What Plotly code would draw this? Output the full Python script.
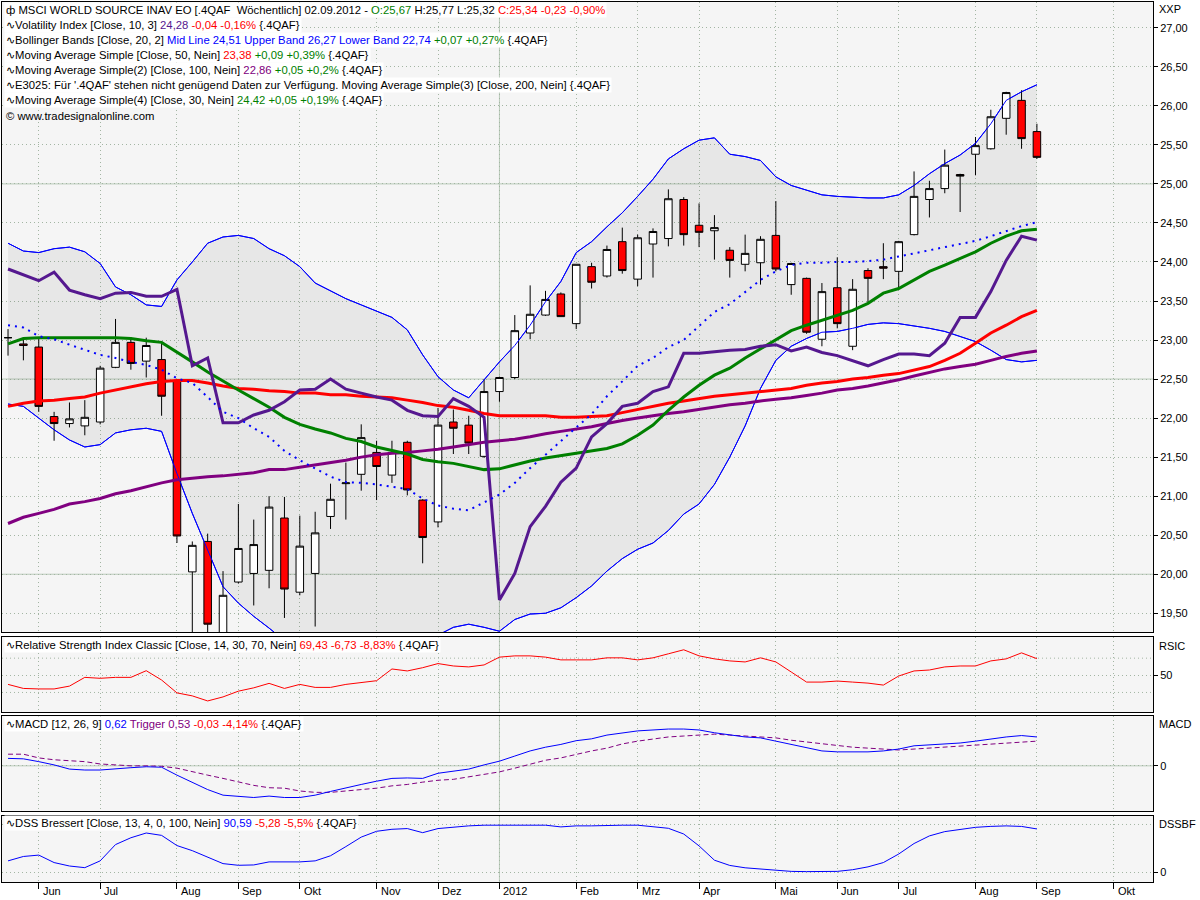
import plotly.graph_objects as go
import pandas as pd

# ---------------- data ----------------
dates = pd.date_range("2011-05-22", periods=68, freq="7D")

opens = [23.03, 22.95, 22.91, 22.02, 21.93, 21.90, 21.95, 22.65, 22.97, 22.73,
         22.75, 22.48, 20.03, 20.42, 19.22, 19.90, 20.01, 20.05, 20.72, 19.77,
         20.01, 20.74, 21.16, 21.28, 21.56, 21.27, 21.69, 20.95, 20.67, 21.95,
         21.91, 21.51, 22.34, 22.52, 23.09, 23.32, 23.59, 23.21, 23.94, 23.82,
         24.26, 23.78, 24.23, 24.30, 24.80, 24.47, 24.40, 24.15, 23.97, 23.99,
         24.34, 23.71, 23.79, 23.01, 23.67, 22.92, 23.89, 23.94, 23.88, 24.35,
         24.80, 24.94, 25.12, 25.38, 25.45, 25.84, 26.07, 25.67]
highs = [23.14, 23.03, 23.02, 22.08, 22.20, 22.23, 22.67, 23.27, 23.03, 23.03,
         22.96, 22.50, 20.42, 20.52, 20.04, 20.90, 20.70, 21.00, 20.99, 20.75,
         20.80, 21.16, 21.43, 21.92, 21.71, 21.71, 21.71, 20.96, 22.13, 22.11,
         22.03, 22.50, 22.53, 23.32, 23.70, 23.63, 23.61, 23.97, 23.99, 24.21,
         24.44, 24.35, 24.43, 24.93, 24.83, 24.75, 24.60, 24.19, 24.35, 24.33,
         24.78, 23.99, 23.80, 23.73, 24.06, 23.78, 23.92, 24.24, 24.27, 25.16,
         25.04, 25.44, 25.13, 25.60, 25.95, 26.18, 26.20, 25.77]
lows = [22.80, 22.74, 22.08, 21.71, 21.88, 21.78, 21.92, 22.64, 22.62, 22.52,
        22.03, 20.40, 19.15, 19.20, 19.10, 19.88, 19.60, 19.82, 19.44, 19.73,
        19.33, 20.58, 20.70, 21.07, 20.95, 21.17, 21.01, 20.14, 20.60, 21.54,
        21.54, 21.49, 22.21, 22.50, 23.01, 23.31, 23.30, 23.14, 23.66, 23.80,
        23.85, 23.69, 23.80, 24.20, 24.21, 24.19, 24.03, 23.80, 23.88, 23.71,
        23.88, 23.58, 23.08, 22.92, 23.15, 22.87, 23.48, 23.78, 23.67, 24.34,
        24.57, 24.88, 24.64, 25.11, 25.44, 25.63, 25.45, 25.32]
closes = [23.03, 22.93, 22.15, 21.93, 21.99, 22.01, 22.64, 22.97, 22.70, 22.93,
          22.28, 20.49, 20.37, 19.36, 19.73, 20.33, 20.38, 20.86, 19.81, 20.36,
          20.53, 20.96, 21.17, 21.75, 21.38, 21.56, 21.08, 20.47, 21.91, 21.87,
          21.68, 22.34, 22.52, 23.12, 23.33, 23.52, 23.30, 23.97, 23.74, 24.16,
          23.89, 24.31, 24.39, 24.81, 24.35, 24.38, 24.44, 24.02, 24.11, 24.29,
          23.91, 23.98, 23.10, 23.62, 23.21, 23.65, 23.79, 23.92, 24.26, 24.84,
          24.94, 25.24, 25.10, 25.49, 25.86, 26.17, 25.58, 25.34]

bb_upper = [24.24, 24.14, 24.12, 24.17, 24.19, 24.13, 23.98, 23.68, 23.58, 23.45,
            23.43, 23.77, 24.00, 24.24, 24.32, 24.34, 24.30, 24.17, 24.08, 23.94,
            23.73, 23.63, 23.53, 23.45, 23.37, 23.29, 23.13, 22.81, 22.53, 22.36,
            22.26, 22.49, 22.72, 22.93, 23.19, 23.49, 23.75, 24.12, 24.26, 24.45,
            24.63, 24.84, 25.06, 25.32, 25.45, 25.56, 25.59, 25.38, 25.35, 25.30,
            25.09, 24.98, 24.92, 24.86, 24.84, 24.83, 24.82, 24.82, 24.86, 24.98,
            25.13, 25.26, 25.37, 25.52, 25.77, 26.07, 26.18, 26.27]
bb_lower = [22.18, 22.15, 22.00, 21.85, 21.72, 21.63, 21.66, 21.81, 21.85, 21.87,
            21.83, 21.29, 20.78, 20.31, 19.84, 19.63, 19.46, 19.31, 19.15, 19.05,
            19.00, 18.98, 19.00, 19.04, 19.08, 19.12, 19.16, 19.19, 19.22, 19.32,
            19.36, 19.32, 19.27, 19.42, 19.49, 19.50, 19.57, 19.70, 19.85, 20.04,
            20.20, 20.32, 20.40, 20.56, 20.77, 20.90, 21.15, 21.50, 21.90, 22.38,
            22.74, 22.92, 23.02, 23.10, 23.11, 23.15, 23.20, 23.22, 23.21, 23.18,
            23.15, 23.11, 23.04, 22.98, 22.87, 22.75, 22.72, 22.74]
bb_mid = [23.19, 23.16, 23.05, 23.01, 22.94, 22.88, 22.81, 22.77, 22.72, 22.68,
          22.62, 22.51, 22.45, 22.27, 22.08, 22.00, 21.87, 21.76, 21.58, 21.46,
          21.36, 21.25, 21.18, 21.17, 21.15, 21.12, 21.09, 20.97, 20.88, 20.84,
          20.82, 20.92, 21.02, 21.17, 21.36, 21.53, 21.71, 21.88, 22.05, 22.28,
          22.47, 22.67, 22.77, 22.91, 23.00, 23.18, 23.36, 23.46, 23.62, 23.77,
          23.88, 23.96, 23.99, 23.99, 24.00, 24.00, 24.01, 24.03, 24.07, 24.11,
          24.15, 24.19, 24.23, 24.27, 24.33, 24.40, 24.46, 24.51]
sma30 = [22.95, 23.02, 23.03, 23.03, 23.03, 23.03, 23.03, 23.03, 23.02, 22.99,
         22.97, 22.85, 22.72, 22.59, 22.47, 22.36, 22.25, 22.14, 22.01, 21.92,
         21.86, 21.81, 21.74, 21.70, 21.63, 21.58, 21.54, 21.47, 21.44, 21.42,
         21.38, 21.34, 21.35, 21.40, 21.45, 21.49, 21.52, 21.55, 21.58, 21.61,
         21.67, 21.78, 21.91, 22.10, 22.27, 22.42, 22.55, 22.64, 22.77, 22.89,
         23.01, 23.12, 23.19, 23.25, 23.31, 23.38, 23.47, 23.60, 23.66, 23.77,
         23.88, 23.96, 24.04, 24.13, 24.24, 24.33, 24.40, 24.42]
sma50 = [22.15, 22.19, 22.22, 22.23, 22.25, 22.27, 22.32, 22.36, 22.40, 22.44,
         22.47, 22.48, 22.48, 22.45, 22.41, 22.38, 22.37, 22.35, 22.34, 22.32,
         22.32, 22.30, 22.30, 22.28, 22.27, 22.26, 22.23, 22.20, 22.16, 22.14,
         22.10, 22.06, 22.03, 22.03, 22.03, 22.03, 22.01, 22.01, 22.02, 22.03,
         22.07, 22.11, 22.15, 22.19, 22.22, 22.25, 22.28, 22.30, 22.32, 22.34,
         22.36, 22.38, 22.42, 22.45, 22.47, 22.50, 22.52, 22.55, 22.57, 22.62,
         22.66, 22.74, 22.83, 22.96, 23.09, 23.19, 23.30, 23.38]
sma100 = [20.65, 20.73, 20.78, 20.83, 20.90, 20.93, 20.97, 21.03, 21.07, 21.12,
          21.17, 21.21, 21.23, 21.25, 21.26, 21.28, 21.30, 21.34, 21.34, 21.37,
          21.40, 21.43, 21.46, 21.50, 21.53, 21.55, 21.56, 21.58, 21.60, 21.63,
          21.66, 21.69, 21.71, 21.73, 21.76, 21.80, 21.83, 21.86, 21.89, 21.93,
          21.97, 22.00, 22.03, 22.06, 22.08, 22.11, 22.14, 22.17, 22.19, 22.22,
          22.24, 22.26, 22.29, 22.32, 22.36, 22.38, 22.41, 22.45, 22.49, 22.54,
          22.59, 22.63, 22.66, 22.69, 22.74, 22.79, 22.83, 22.86]
vol_index = [23.91, 23.83, 23.76, 23.87, 23.64, 23.58, 23.53, 23.60, 23.61, 23.56,
             23.56, 23.65, 22.67, 22.77, 21.94, 21.94, 22.04, 22.10, 22.21, 22.36,
             22.37, 22.50, 22.37, 22.32, 22.27, 22.23, 22.10, 22.03, 22.02, 22.25,
             22.15, 22.01, 19.67, 20.01, 20.61, 20.87, 21.18, 21.36, 21.76, 21.93,
             22.15, 22.19, 22.34, 22.40, 22.83, 22.83, 22.85, 22.87, 22.88, 22.92,
             22.94, 22.86, 22.91, 22.84, 22.80, 22.73, 22.67, 22.75, 22.82, 22.82,
             22.80, 22.96, 23.29, 23.29, 23.62, 24.02, 24.33, 24.28]

rsi = [39.4, 34.7, 34.1, 34.1, 37.4, 47.6, 46.5, 47.6, 47.6, 55.4,
       44.5, 29.5, 26.0, 20.1, 24.8, 31.5, 35.4, 40.6, 34.7, 39.4,
       35.9, 35.9, 39.4, 41.3, 43.7, 57.4, 55.1, 58.9, 63.7, 60.9,
       59.8, 62.1, 71.2, 72.7, 72.7, 71.2, 68.0, 68.0, 68.0, 70.4,
       70.4, 68.0, 70.4, 75.1, 79.8, 72.7, 69.2, 66.8, 65.6, 70.4,
       65.6, 53.9, 42.1, 42.1, 43.3, 42.1, 40.9, 38.6, 49.2, 55.1,
       56.2, 59.8, 60.9, 60.9, 66.8, 69.2, 76.2, 69.4]
macd = [0.16, 0.15, 0.09, 0.02, -0.07, -0.09, -0.09, -0.06, -0.04, -0.02,
        -0.03, -0.20, -0.35, -0.51, -0.63, -0.65, -0.68, -0.65, -0.68, -0.68,
        -0.63, -0.55, -0.47, -0.40, -0.33, -0.27, -0.26, -0.27, -0.16, -0.11,
        -0.07, 0.02, 0.10, 0.21, 0.32, 0.40, 0.46, 0.54, 0.58, 0.66,
        0.71, 0.75, 0.77, 0.79, 0.79, 0.77, 0.71, 0.66, 0.62, 0.60,
        0.53, 0.45, 0.38, 0.32, 0.30, 0.30, 0.30, 0.32, 0.36, 0.43,
        0.45, 0.47, 0.49, 0.53, 0.58, 0.62, 0.65, 0.62]
trigger = [0.25, 0.25, 0.17, 0.13, 0.11, 0.09, 0.04, 0.02, 0.00, 0.00,
           -0.01, -0.05, -0.13, -0.20, -0.27, -0.35, -0.42, -0.47, -0.48, -0.54,
           -0.57, -0.57, -0.54, -0.51, -0.48, -0.43, -0.40, -0.35, -0.31, -0.29,
           -0.24, -0.19, -0.13, -0.05, 0.03, 0.12, 0.17, 0.25, 0.32, 0.38,
           0.47, 0.53, 0.58, 0.62, 0.64, 0.66, 0.68, 0.66, 0.64, 0.62,
           0.60, 0.55, 0.51, 0.47, 0.43, 0.40, 0.38, 0.36, 0.34, 0.36,
           0.38, 0.40, 0.42, 0.45, 0.47, 0.49, 0.51, 0.53]
dss = [23.6, 32.8, 35.7, 20.0, 12.8, 9.3, 23.6, 57.8, 72.1, 82.1,
       77.1, 55.7, 45.0, 30.7, 17.8, 14.3, 15.0, 21.4, 21.4, 21.4,
       23.6, 34.3, 53.5, 73.5, 85.7, 89.9, 91.4, 82.8, 91.4, 94.9,
       97.1, 98.5, 98.5, 98.5, 98.5, 98.5, 94.9, 97.1, 97.1, 98.5,
       98.5, 98.5, 96.0, 92.0, 80.0, 55.0, 25.0, 14.0, 9.0, 6.0,
       3.0, 1.5, 1.0, 1.0, 1.5, 5.0, 11.0, 20.0, 38.0, 60.0,
       76.0, 85.0, 90.0, 94.0, 96.0, 97.0, 95.9, 90.6]

month_ticks = ["2011-06-05", "2011-07-03", "2011-08-07", "2011-09-04", "2011-10-02",
               "2011-11-06", "2011-12-04", "2012-01-01", "2012-02-05", "2012-03-04",
               "2012-04-01", "2012-05-06", "2012-06-03", "2012-07-01", "2012-08-05",
               "2012-09-02", "2012-10-07"]
month_labels = ["Jun", "Jul", "Aug", "Sep", "Okt", "Nov", "Dez", "2012", "Feb", "Mrz",
                "Apr", "Mai", "Jun", "Jul", "Aug", "Sep", "Okt"]
price_ticks = [19.5, 20.0, 20.5, 21.0, 21.5, 22.0, 22.5, 23.0, 23.5, 24.0,
               24.5, 25.0, 25.5, 26.0, 26.5, 27.0]
price_solid = [20.0, 22.5, 25.0]

# ---------------- layout geometry ----------------
W, H = 1200, 900
ML, MR, MT, MB = 2, 47, 2, 18
PW, PH = W - ML - MR, H - MT - MB


def py(p):
    return (H - MB - p) / PH


def px(p):
    return (p - ML) / PW


FONT = "Liberation Sans, Arial, sans-serif"
BLUE, RED, GREEN, PURPLE, INDIGO = "#0000ff", "#ff0000", "#008000", "#800080", "#55188f"
GRID = "#a3b5a3"
SOLID = "#b9cab9"
BG = "#f5f5f5"

fig = go.Figure()

# Bollinger band fill (base subplot, behind candles)
fig.add_trace(go.Scatter(x=dates, y=bb_upper, mode="lines", line=dict(color=BLUE, width=1),
                         xaxis="x", yaxis="y", hoverinfo="skip", showlegend=False))
fig.add_trace(go.Scatter(x=dates, y=bb_lower, mode="lines", line=dict(color=BLUE, width=1),
                         fill="tonexty", fillcolor="rgba(0,0,0,0.055)",
                         xaxis="x", yaxis="y", hoverinfo="skip", showlegend=False))

# candles on overlay axis
fig.add_trace(go.Candlestick(x=dates, open=opens, high=highs, low=lows, close=closes,
                             xaxis="x", yaxis="y5", whiskerwidth=0,
                             increasing=dict(line=dict(color="black", width=1), fillcolor="white"),
                             decreasing=dict(line=dict(color="black", width=1), fillcolor=RED),
                             showlegend=False))
for yy in (bb_upper, bb_lower):
    fig.add_trace(go.Scatter(x=dates, y=yy, mode="lines", line=dict(color=BLUE, width=1),
                             xaxis="x", yaxis="y5", hoverinfo="skip", showlegend=False))
fig.add_trace(go.Scatter(x=dates, y=sma100, mode="lines", line=dict(color=PURPLE, width=3),
                         xaxis="x", yaxis="y5", showlegend=False))
fig.add_trace(go.Scatter(x=dates, y=sma50, mode="lines", line=dict(color=RED, width=3),
                         xaxis="x", yaxis="y5", showlegend=False))
fig.add_trace(go.Scatter(x=dates, y=sma30, mode="lines", line=dict(color=GREEN, width=3),
                         xaxis="x", yaxis="y5", showlegend=False))
fig.add_trace(go.Scatter(x=dates, y=vol_index, mode="lines", line=dict(color=INDIGO, width=3),
                         xaxis="x", yaxis="y5", showlegend=False))
fig.add_trace(go.Scatter(x=dates, y=bb_mid, mode="lines", line=dict(color=BLUE, width=2, dash="2px,5px"),
                         xaxis="x", yaxis="y5", showlegend=False))

# RSI
fig.add_trace(go.Scatter(x=dates, y=rsi, mode="lines", line=dict(color=RED, width=1),
                         xaxis="x2", yaxis="y2", showlegend=False))
# MACD
fig.add_trace(go.Scatter(x=dates, y=trigger, mode="lines", line=dict(color=PURPLE, width=1, dash="5px,3px"),
                         xaxis="x3", yaxis="y3", showlegend=False))
fig.add_trace(go.Scatter(x=dates, y=macd, mode="lines", line=dict(color=BLUE, width=1),
                         xaxis="x3", yaxis="y3", showlegend=False))
# DSS
fig.add_trace(go.Scatter(x=dates, y=dss, mode="lines", line=dict(color=BLUE, width=1),
                         xaxis="x4", yaxis="y4", showlegend=False))

xrange = ["2011-05-19 06:00", "2012-10-24 22:00"]
xcommon = dict(tickvals=month_ticks, showticklabels=False, showgrid=True, gridcolor=GRID,
               griddash="1px,3px", gridwidth=1, showline=True, mirror=True, linecolor="black",
               linewidth=1, zeroline=False)
ycommon = dict(side="right", showline=True, mirror=True, linecolor="black", linewidth=1,
               ticks="outside", ticklen=4, tickcolor="black", showgrid=True, gridcolor=GRID,
               griddash="1px,3px", zeroline=False,
               tickfont=dict(family=FONT, size=11, color="black"))

fig.update_layout(
    width=W, height=H, margin=dict(l=ML, r=MR, t=MT, b=MB),
    paper_bgcolor="white", plot_bgcolor=BG, separators=",.",
    font=dict(family=FONT, size=11, color="black"),
    showlegend=False,
    xaxis=dict(domain=[0, 1], anchor="y", range=xrange, ticks="", rangeslider=dict(visible=False), **xcommon),
    xaxis2=dict(domain=[0, 1], anchor="y2", matches="x", ticks="", **xcommon),
    xaxis3=dict(domain=[0, 1], anchor="y3", matches="x", ticks="", **xcommon),
    xaxis4=dict(domain=[0, 1], anchor="y4", matches="x", ticks="outside", ticklen=6,
                tickcolor="black", **xcommon),
    yaxis=dict(domain=[py(632), py(2)], anchor="x", range=[19.26, 27.33], tickvals=price_ticks,
               tickformat=".2f", **ycommon),
    yaxis5=dict(overlaying="y", anchor="x", range=[19.26, 27.33], visible=False, side="right"),
    yaxis2=dict(domain=[py(712), py(637)], anchor="x2", range=[7.2, 94.7], tickvals=[50], **ycommon),
    yaxis3=dict(domain=[py(811), py(716)], anchor="x3", range=[-0.97, 1.07], tickvals=[0],
                tickformat="d", **ycommon),
    yaxis4=dict(domain=[py(882), py(816)], anchor="x4", range=[-20.8, 117.8], tickvals=[0],
                tickformat="d", **ycommon),
)

shapes = []
for v in price_solid:
    shapes.append(dict(type="line", xref="x domain", x0=0, x1=1, yref="y", y0=v, y1=v,
                       line=dict(color=SOLID, width=1), layer="below"))
shapes.append(dict(type="line", xref="x3 domain", x0=0, x1=1, yref="y3", y0=0, y1=0,
                   line=dict(color=SOLID, width=1), layer="below"))
for v in (30, 70):
    shapes.append(dict(type="line", xref="x2 domain", x0=0, x1=1, yref="y2", y0=v, y1=v,
                       line=dict(color=GRID, width=1, dash="1px,3px"), layer="below"))
shapes.append(dict(type="line", xref="x4 domain", x0=0, x1=1, yref="y4", y0=100, y1=100,
                   line=dict(color=GRID, width=1, dash="1px,3px"), layer="below"))
for ax in ("", "2", "3", "4"):
    shapes.append(dict(type="line", xref="x" + ax, x0=month_ticks[7], x1=month_ticks[7],
                       yref="y" + ax + " domain", y0=0, y1=1,
                       line=dict(color=SOLID, width=1), layer="below"))
fig.update_layout(shapes=shapes)


def span(t, c):
    return f'<span style="color:{c}">{t}</span>'


WAVE = "\u223f"
header = [
    (10, "\u0444 MSCI WORLD SOURCE INAV EO [.4QAF\u00a0 Wöchentlich] 02.09.2012 - "
         + span("O:25,67", GREEN) + " H:25,77 L:25,32 " + span("C:25,34 -0,23 -0,90%", RED), True),
    (25, WAVE + "Volatility Index [Close, 10, 3] " + span("24,28", INDIGO) + " "
         + span("-0,04 -0,16%", RED) + " {.4QAF}", True),
    (40, WAVE + "Bollinger Bands [Close, 20, 2] "
         + span("Mid Line 24,51 Upper Band 26,27 Lower Band 22,74", BLUE) + " "
         + span("+0,07 +0,27%", GREEN) + " {.4QAF}", True),
    (55, WAVE + "Moving Average Simple [Close, 50, Nein] " + span("23,38", RED) + " "
         + span("+0,09 +0,39%", GREEN) + " {.4QAF}", True),
    (70, WAVE + "Moving Average Simple(2) [Close, 100, Nein] " + span("22,86", PURPLE) + " "
         + span("+0,05 +0,2%", GREEN) + " {.4QAF}", True),
    (85, WAVE + "E3025: Für '.4QAF' stehen nicht genügend Daten zur Verfügung. "
              "Moving Average Simple(3) [Close, 200, Nein] {.4QAF}", True),
    (100, WAVE + "Moving Average Simple(4) [Close, 30, Nein] "
          + span("24,42 +0,05 +0,19%", GREEN) + " {.4QAF}", True),
    (116, "© www.tradesignalonline.com", False),
    (645, WAVE + "Relative Strength Index Classic [Close, 14, 30, 70, Nein] "
          + span("69,43 -6,73 -8,83%", RED) + " {.4QAF}", True),
    (724, WAVE + "MACD [12, 26, 9] " + span("0,62", BLUE) + " " + span("Trigger 0,53", PURPLE) + " "
          + span("-0,03 -4,14%", RED) + " {.4QAF}", True),
    (823, WAVE + "DSS Bressert [Close, 13, 4, 0, 100, Nein] " + span("90,59", BLUE) + " "
          + span("-5,28 -5,5%", RED) + " {.4QAF}", True),
]
annotations = []
for yp, txt, box in header:
    annotations.append(dict(xref="paper", yref="paper", x=px(4), y=py(yp), xanchor="left",
                            yanchor="middle", text=txt, showarrow=False, align="left",
                            bgcolor="white" if box else None, borderpad=1,
                            font=dict(family=FONT, size=11.3, color="black")))
for yp, txt in ((9, "XXP"), (646, "RSIC"), (724, "MACD"), (824, "DSSBF")):
    annotations.append(dict(xref="paper", yref="paper", x=px(1157), y=py(yp), xanchor="left",
                            yanchor="middle", text=txt, showarrow=False,
                            font=dict(family=FONT, size=11, color="black")))
for d, lab in zip(month_ticks, month_labels):
    annotations.append(dict(xref="x4", yref="paper", x=d, y=py(891), xanchor="left", xshift=2,
                            yanchor="middle", text=lab, showarrow=False,
                            font=dict(family=FONT, size=11, color="black")))
fig.update_layout(annotations=annotations)

fig.write_html("out.html", config={"displayModeBar": False},
               post_script="document.body.style.margin='0px';document.body.style.padding='0px';")
